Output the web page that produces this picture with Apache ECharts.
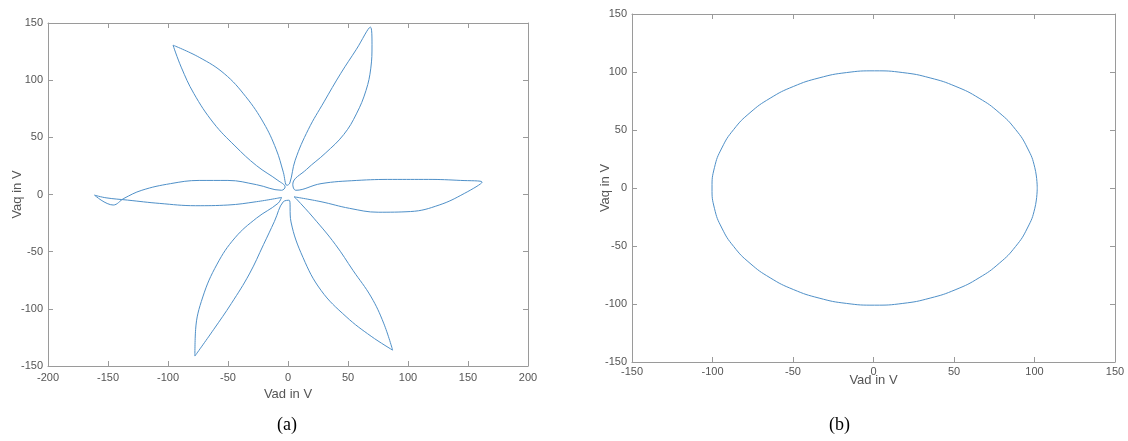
<!DOCTYPE html>
<html>
<head>
<meta charset="utf-8">
<script src="https://cdn.jsdelivr.net/npm/echarts@6/dist/echarts.min.js"></script>
<style>
  html, body { margin: 0; padding: 0; background: #fff; }
  #chart { width: 1128px; height: 441px; }
</style>
</head>
<body>
<div id="chart"></div>
<script>
// Petal points [Vad, Vaq] (a), each petal: out along one edge, tip, back along the other
const petalRight = [
  [5, -2], [27.5, -6.3], [51.3, -12.1], [75.2, -15.5], [102.1, -14.9], [126, -9.2], [146.9, 0.9], [161.8, 10.9],
  [143.9, 12.3], [117, 13.2], [87.2, 13.2], [57.3, 12.3], [27.5, 9.5], [6.6, 3.7]
];
const petalUpRight = [
  [4, 9], [15.5, 22], [31, 36], [46.5, 52.5], [57, 70.5], [65, 91], [69, 110.5], [70, 131], [68.7, 146.4],
  [57, 127], [44, 106], [30, 81], [17, 57], [6, 30], [1.5, 10]
];
const petalUpLeft = [
  [-0.9, 8], [-3.9, 19.5], [-9.9, 39.6], [-20.3, 62.6], [-35.2, 85.6], [-53.1, 105.7], [-74, 120], [-95.8, 130.6],
  [-89, 111.4], [-78.5, 88.4], [-62.1, 62.6], [-44.2, 42.5], [-26.3, 25.3], [-8.4, 12.3], [-2.4, 6.6]
];
const petalLeft = [
  [-5.4, 3.7], [-26.3, 8.6], [-50.1, 12.3], [-74, 12.3], [-97.9, 9.5], [-121.8, 3.7], [-136.7, -3.4], [-145.7, -9.2], [-161.2, -0.6],
  [-151.6, -2.9], [-133.7, -4.9], [-106.9, -7.8], [-77, -9.8], [-50.1, -9.2], [-26.3, -6.3], [-5.4, -2.6]
];
const petalDownLeft = [
  [-8.4, -7.8], [-26.3, -20.7], [-44.2, -37.9], [-59.1, -60.9], [-71, -89.6], [-77, -118.3], [-77.6, -141.3],
  [-62.1, -118.3], [-47.2, -95.3], [-32.2, -69.5], [-20.3, -43.6], [-11.3, -23.5], [-3.9, -6.3]
];
const petalDownRight = [
  [1, -5], [2.5, -24], [12.5, -55.1], [27.5, -83.8], [48.4, -106.8], [69.3, -124], [87.2, -136.1],
  [79.7, -112.5], [69.3, -89.6], [54.3, -66.6], [39.4, -43.6], [21.5, -20.7], [6.6, -3.4], [5, -2]
];

// Plot (b): closed trajectory
const circleVad = [101.7, 100.2, 95.6, 88.2, 78.1, 65.6, 51.2, 35.2, 18.2, 0.7, -16.8, -33.8, -49.8, -64.2, -76.7, -86.8, -94.2, -98.8, -100.3,
  -98.8, -94.2, -86.8, -76.7, -64.2, -49.8, -33.8, -16.8, 0.7, 18.2, 35.2, 51.2, 65.6, 78.1, 88.2, 95.6, 100.2, 101.7];
const circleVaq = [0, 17.5, 34.5, 50.5, 64.9, 77.4, 87.5, 94.9, 99.5, 101, 99.5, 94.9, 87.5, 77.4, 64.9, 50.5, 34.5, 17.5, 0,
  -17.5, -34.5, -50.5, -64.9, -77.4, -87.5, -94.9, -99.5, -101, -99.5, -94.9, -87.5, -77.4, -64.9, -50.5, -34.5, -17.5, 0];

// Axis ranges / ticks
const axisA = { xMin: -200, xMax: 200, yMin: -150, yMax: 150, step: 50 };
const axisB = { xMin: -150, xMax: 150, yMin: -150, yMax: 150, step: 50 };

const flowerData = [].concat(petalRight, petalUpRight, petalUpLeft, petalLeft, petalDownLeft, petalDownRight);
const circleData = circleVad.map((v, i) => [v, circleVaq[i]]);

const chart = echarts.init(document.getElementById('chart'));

const lineColor = '#9a9a9a';
const labelStyle = { color: '#555', fontSize: 11, fontFamily: 'Liberation Sans, Arial, sans-serif' };
const nameStyle = { color: '#555', fontSize: 13, fontFamily: 'Liberation Sans, Arial, sans-serif' };

// MATLAB style box: labelled axis plus a bare mirror axis with inside ticks
function makeAxis(gridIndex, min, max, step, position, withLabel, name, nameGap, margin) {
  return {
    type: 'value',
    gridIndex: gridIndex,
    position: position,
    min: min,
    max: max,
    interval: step,
    axisLine: { show: true, onZero: false, lineStyle: { color: lineColor, width: 1 } },
    axisTick: { show: true, inside: true, length: 5, lineStyle: { color: lineColor } },
    axisLabel: Object.assign({ show: withLabel, margin: margin || 5 }, labelStyle),
    splitLine: { show: false },
    name: withLabel ? name : '',
    nameLocation: 'middle',
    nameGap: nameGap,
    nameMoveOverlap: false,
    nameTextStyle: nameStyle
  };
}

let option = {
  animation: false,
  backgroundColor: '#fff',
  grid: [
    { left: 48, top: 23, width: 480, height: 343 },
    { left: 632, top: 14, width: 483, height: 348 }
  ],
  xAxis: [
    makeAxis(0, axisA.xMin, axisA.xMax, axisA.step, 'bottom', true, 'Vad in V', 22, 6),
    makeAxis(0, axisA.xMin, axisA.xMax, axisA.step, 'top', false),
    makeAxis(1, axisB.xMin, axisB.xMax, axisB.step, 'bottom', true, 'Vad in V', 12, 4),
    makeAxis(1, axisB.xMin, axisB.xMax, axisB.step, 'top', false)
  ],
  yAxis: [
    makeAxis(0, axisA.yMin, axisA.yMax, axisA.step, 'left', true, 'Vaq in V', 24),
    makeAxis(0, axisA.yMin, axisA.yMax, axisA.step, 'right', false),
    makeAxis(1, axisB.yMin, axisB.yMax, axisB.step, 'left', true, 'Vaq in V', 20),
    makeAxis(1, axisB.yMin, axisB.yMax, axisB.step, 'right', false)
  ],
  series: [
    {
      type: 'line',
      xAxisIndex: 0,
      yAxisIndex: 0,
      data: flowerData,
      smooth: 0.4,
      showSymbol: false,
      lineStyle: { color: '#4f90c8', width: 1 }
    },
    {
      type: 'line',
      xAxisIndex: 2,
      yAxisIndex: 2,
      data: circleData,
      smooth: 0.5,
      showSymbol: false,
      lineStyle: { color: '#4f90c8', width: 1 }
    }
  ],
  graphic: [
    { type: 'text', left: 277, top: 416, style: { text: '(a)', fontSize: 18, fontFamily: 'Liberation Serif, Times New Roman, serif', fill: '#000' } },
    { type: 'text', left: 829, top: 416, style: { text: '(b)', fontSize: 18, fontFamily: 'Liberation Serif, Times New Roman, serif', fill: '#000' } }
  ]
};

chart.setOption(option);
</script>
</body>
</html>
